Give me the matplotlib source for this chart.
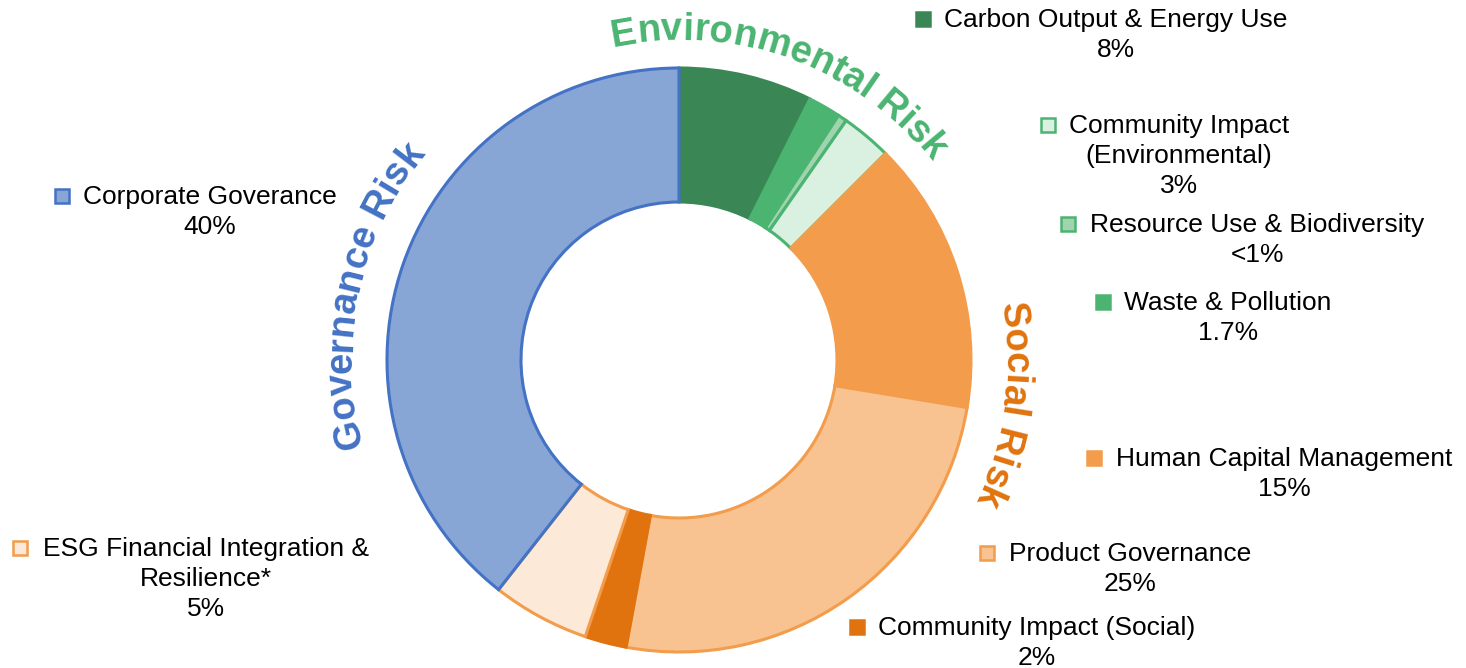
import numpy as np
import matplotlib.pyplot as plt
from matplotlib.patches import Rectangle
from matplotlib.font_manager import FontProperties
from matplotlib.textpath import TextToPath

# slice data, clockwise from 12 o'clock (sizes as drawn in the chart)
labels = ["Carbon Output & Energy Use", "Waste & Pollution", "Resource Use & Biodiversity",
          "Community Impact\n(Environmental)", "Human Capital Management", "Product Governance",
          "Community Impact (Social)", "ESG Financial Integration &\nResilience*", "Corporate Goverance"]
values = [7.4, 1.8, 0.5, 2.8, 15.1, 25.3, 2.3, 5.4, 39.4]
pct_labels = ["8%", "1.7%", "<1%", "3%", "15%", "25%", "2%", "5%", "40%"]

groups = ["Environmental Risk", "Social Risk", "Governance Risk"]

GREEN, ORANGE, BLUE = "#4bb471", "#f39c4b", "#4472c4"
fills = ["#3a8755", GREEN, "#9fd4ae", "#daf0e1", ORANGE, "#f8c391", "#e0730e", "#fce9d8", "#87a6d6"]
edges = ["#3a8755", GREEN, GREEN, GREEN, ORANGE, ORANGE, "#e0730e", ORANGE, BLUE]

W, H = 1466, 668
fig = plt.figure(figsize=(W / 100, H / 100), dpi=100)
ax = fig.add_axes([0, 0, 1, 1])

cx, cy = 679, H - 360
R, r_in = 292, 158

wedges, _ = ax.pie(values, radius=R, center=(cx, cy), startangle=90, counterclock=False,
                   colors=fills, wedgeprops=dict(width=R - r_in, linewidth=2.2))
for w, ec in zip(wedges, edges):
    w.set_edgecolor(ec)

ax.set_xlim(0, W)
ax.set_ylim(0, H)
ax.set_aspect("equal")
ax.set_axis_off()

plt.rcParams['font.family'] = ['Liberation Sans', 'DejaVu Sans']

# legend-style labels: (text centre x, first line y, marker x) in image pixels
label_pos = [(1116, 19, 923), (1228, 302, 1103), (1257, 224, 1068), (1179, 125, 1048),
             (1284, 458, 1094), (1130, 553, 987), (1037, 627, 857), (206, 548, 20), (210, 196, 62)]
line_h = 30
fs = 19
for lab, pct, (tx, ty, mx), fc, ec in zip(labels, pct_labels, label_pos, fills, edges):
    lines = lab.split("\n") + [pct]
    for i, ln in enumerate(lines):
        ax.text(tx, H - (ty + 1 + i * line_h), ln, ha="center", va="center", fontsize=fs, color="black")
    ax.add_patch(Rectangle((mx - 7, H - ty - 7), 14, 14, facecolor=fc, edgecolor=ec, linewidth=1.8))

# curved group titles
t2p = TextToPath()
bold = FontProperties(family="Liberation Sans", weight="bold", size=27.5)
px = 100 / 72


def width_px(s):
    w, _, _ = t2p.get_text_width_height_descent(s, bold, ismath=False)
    return w * px


def arc_text(s, theta_c, rad, color):
    total = width_px(s)
    for i, ch in enumerate(s):
        if ch == " ":
            continue
        pos = width_px(s[:i]) + width_px(ch) / 2 - total / 2
        th = np.radians(theta_c) - pos / rad
        x = cx + rad * np.cos(th)
        y = cy + rad * np.sin(th)
        ax.text(x, y, ch, fontproperties=bold, color=color, rotation=np.degrees(th) - 90,
                rotation_mode="anchor", ha="center", va="baseline")


arc_text(groups[0], 70, 320, GREEN)
arc_text(groups[1], -8, 326, "#e0730e")
arc_text(groups[2], 168, 328, BLUE)

fig.savefig("out.png", dpi=100)
